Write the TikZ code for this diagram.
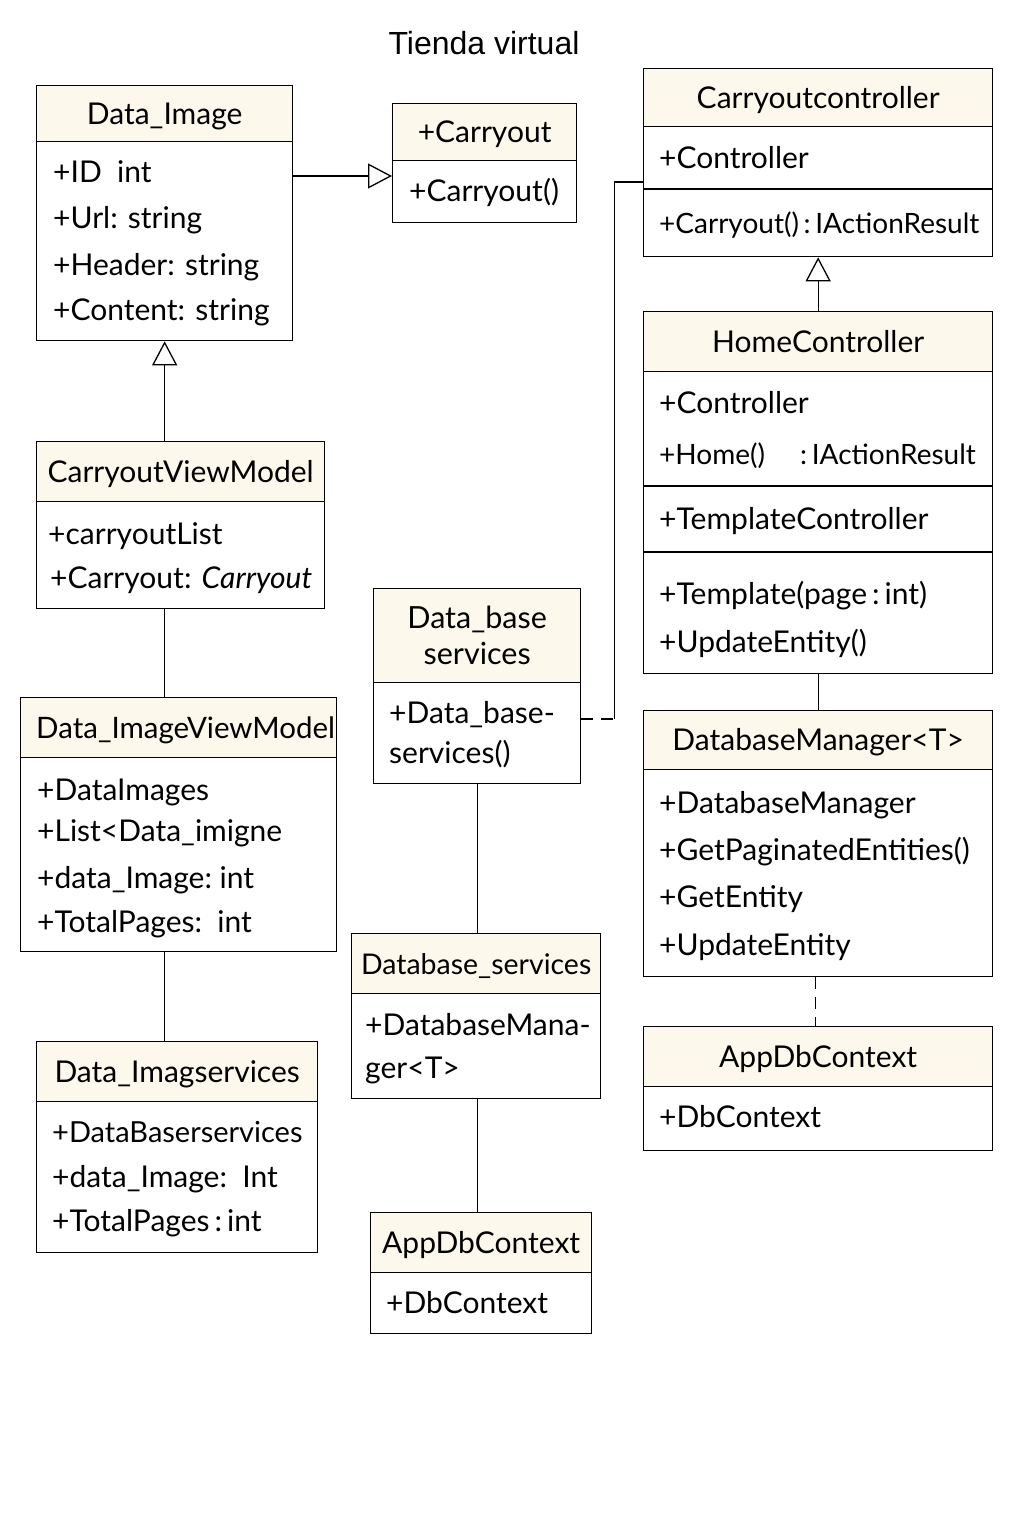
\documentclass[tikz,border=0pt]{standalone}
\usepackage{fontspec}
\setmainfont{Lato}
\newfontfamily\arialf{Liberation Sans}
\usetikzlibrary{arrows.meta}
\definecolor{cream}{HTML}{FCF8EC}
\tikzset{
 ln/.style={line width=1.3pt, draw=black},
 hdr/.style={ln, fill=cream, inner sep=0pt, anchor=north west, font=\fontsize{30}{34}\selectfont, text height=25pt, text depth=4pt},
 hdrtwo/.style={ln, fill=cream, inner sep=0pt, anchor=north west, font=\fontsize{30.5}{36}\selectfont, align=center},
 bdy/.style={ln, fill=white, inner sep=0pt, anchor=north west},
 itm/.style={anchor=west, inner sep=0pt, font=\fontsize{30}{34}\selectfont, text height=25pt, text depth=4pt},
 gen/.style={ln, -{Triangle[open, length=24pt, width=25pt, line width=1.3pt]}},
 assoc/.style={ln},
 dep/.style={ln, dash pattern=on 12pt off 8pt},
}
\begin{document}
\begin{tikzpicture}[x=1pt,y=-1pt]
\useasboundingbox[fill=white] (0,0) rectangle (1024,1536);

% title
\node[font=\arialf\fontsize{32}{36}\selectfont, inner sep=0pt] (title) at (484,43) {Tienda virtual};

% Data_Image
\node[hdr, minimum width=256pt, minimum height=56pt] (diH) at (36,85) {Data\_Image};
\node[bdy, minimum width=256pt, minimum height=199pt] (diB) at (36,141) {};
\node[itm] (di1) at (53,172) {+ID\ \ int};
\node[itm] (di2) at (53,218) {+Url: string};
\node[itm] (di3) at (53,265) {+Header: string};
\node[itm] (di4) at (53,310) {+Content: string};

% Carryout
\node[hdr, minimum width=184pt, minimum height=57pt] (coH) at (392,103) {+Carryout};
\node[bdy, minimum width=184pt, minimum height=62pt] (coB) at (392,160) {};
\node[itm] (co1) at (409,191) {+Carryout()};

% Carryoutcontroller
\node[hdr, minimum width=349pt, minimum height=58pt] (ccH) at (643,68) {Carryoutcontroller};
\node[bdy, minimum width=349pt, minimum height=130pt] (ccB) at (643,126) {};
\draw[ln] (643,189) -- (993,189);
\node[itm] (cc1) at (659,158) {+Controller};
\node[itm, font=\fontsize{28}{32}\selectfont] (cc2) at (659,223) {+Carryout()\,:\,IActionResult};

% HomeController
\node[hdr, minimum width=349pt, minimum height=60pt] (hcH) at (643,311) {HomeController};
\node[bdy, minimum width=349pt, minimum height=302pt] (hcB) at (643,371) {};
\draw[ln] (643,486) -- (992,486);
\draw[ln, line width=1.8pt] (643,552) -- (992,552);
\node[itm] (hc1) at (659,403) {+Controller};
\node[itm, font=\fontsize{28}{32}\selectfont] (hc2) at (659,454) {+Home()\quad\ :\,IActionResult};
\node[itm] (hc3) at (659,519) {+TemplateController};
\node[itm] (hc4) at (659,594) {+Template(page\,:\,int)};
\node[itm] (hc5) at (659,642) {+UpdateEntity()};

% DatabaseManager<T>
\node[hdr, minimum width=349pt, minimum height=59pt] (dmH) at (643,710) {DatabaseManager<T>};
\node[bdy, minimum width=349pt, minimum height=207pt] (dmB) at (643,769) {};
\node[itm] (dm1) at (659,803) {+DatabaseManager};
\node[itm] (dm2) at (659,850) {+GetPaginatedEntities()};
\node[itm] (dm3) at (659,897) {+GetEntity};
\node[itm] (dm4) at (659,945) {+UpdateEntity};

% AppDbContext (right)
\node[hdr, minimum width=349pt, minimum height=60pt] (adH) at (643,1026) {AppDbContext};
\node[bdy, minimum width=349pt, minimum height=64pt] (adB) at (643,1086) {};
\node[itm] (ad1) at (659,1117) {+DbContext};

% CarryoutViewModel
\node[hdr, minimum width=288pt, minimum height=60pt] (cvH) at (36,441) {CarryoutViewModel};
\node[bdy, minimum width=288pt, minimum height=107pt] (cvB) at (36,501) {};
\node[itm] (cv1) at (48,534) {+carryoutList};
\node[itm] (cv2) at (50,578) {+Carryout: \textit{Carryout}};

% Data_ImageViewModel
\node[hdr, minimum width=316pt, minimum height=60pt, font=\fontsize{29.5}{34}\selectfont] (dvH) at (20,697) {\hspace{14pt}Data\_ImageViewModel};
\node[bdy, minimum width=316pt, minimum height=194pt] (dvB) at (20,757) {};
\node[itm] (dv1) at (37,790) {+DataImages};
\node[itm] (dv2) at (37,831) {+List<Data\_imigne};
\node[itm] (dv3) at (37,878) {+data\_Image:\ int};
\node[itm] (dv4) at (37,922) {+TotalPages:\ \ int};

% Data_Imagservices
\node[hdr, minimum width=281pt, minimum height=60pt] (dsH) at (36,1041) {Data\_Imagservices};
\node[bdy, minimum width=281pt, minimum height=151pt] (dsB) at (36,1101) {};
\node[itm, font=\fontsize{29}{34}\selectfont] (ds1) at (52,1132) {+DataBaserservices};
\node[itm] (ds2) at (52,1177) {+data\_Image:\ \ Int};
\node[itm] (ds3) at (52,1221) {+TotalPages\,:\,int};

% Data_base services
\node[hdrtwo, minimum width=207pt, minimum height=94pt] (dbH) at (373,588) {Data\_base\\services};
\node[bdy, minimum width=207pt, minimum height=101pt] (dbB) at (373,682) {};
\node[itm] (db1) at (389,713) {+Data\_base-};
\node[itm] (db2) at (389,753) {services()};

% Database_services
\node[hdr, minimum width=249pt, minimum height=60pt, font=\fontsize{28.5}{32}\selectfont] (dsvH) at (351,933) {Database\_services};
\node[bdy, minimum width=249pt, minimum height=105pt] (dsvB) at (351,993) {};
\node[itm] (dsv1) at (365,1025) {+DatabaseMana-};
\node[itm] (dsv2) at (365,1068) {ger<T>};

% AppDbContext (center)
\node[hdr, minimum width=221pt, minimum height=60pt] (acH) at (370,1212) {AppDbContext};
\node[bdy, minimum width=221pt, minimum height=61pt] (acB) at (370,1272) {};
\node[itm] (ac1) at (386,1303) {+DbContext};

% connectors
\draw[gen] (diB.north east) ++(0,35) coordinate (a1) -- (a1 -| coB.west);
\draw[gen] (hcH.north) -- (ccB.south);
\draw[gen] (diB.south |- cvH.north) -- (diB.south);
\draw[assoc] (diB.south |- cvB.south) -- (diB.south |- dvH.north);
\draw[assoc] (diB.south |- dvB.south) -- (diB.south |- dsH.north);
\draw[assoc] (dbB.south) -- (dbB.south |- dsvH.north);
\draw[assoc] (dbB.south |- dsvB.south) -- (dbB.south |- acH.north);
\draw[assoc] (hcB.south) -- (dmH.north);
\draw[dep] (dmB.south) ++(-3,0) coordinate (d1) -- (d1 |- adH.north);
\draw[dep] (dbB.north east) ++(0,37) coordinate (p1) -- ++(33,0) coordinate (p2);
\draw[assoc] (p2) |- ([yshift=-56pt]ccB.north west);
\end{tikzpicture}
\end{document}
